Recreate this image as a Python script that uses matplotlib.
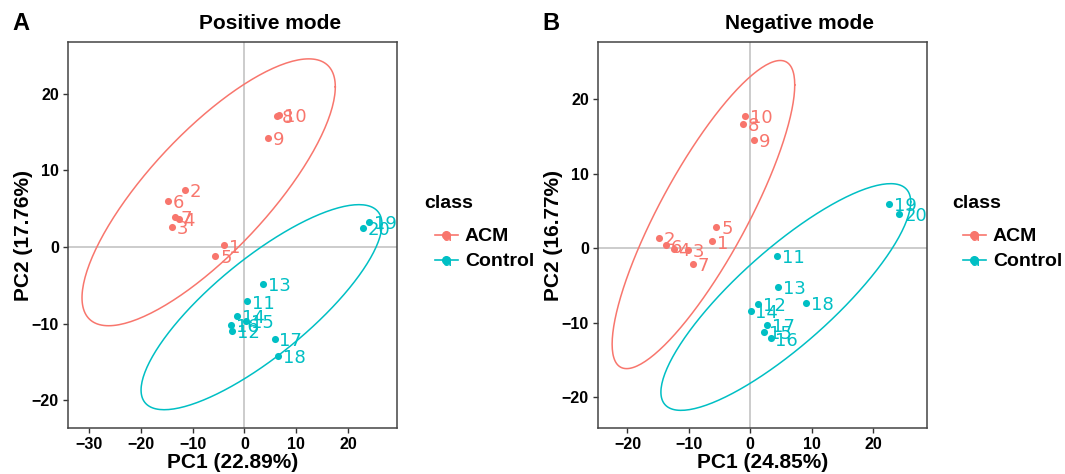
import numpy as np
import matplotlib
matplotlib.use('Agg')
import matplotlib.pyplot as plt
from matplotlib.legend_handler import HandlerBase
from matplotlib.lines import Line2D
from matplotlib.text import Text

# sample ids and groups (1-10 ACM, 11-20 Control)
sample_ids = [str(i) for i in range(1, 21)]
classes = ['ACM'] * 10 + ['Control'] * 10

# positive mode PCA scores
pos_pc1 = [-3.9, -11.5, -14.0, -12.7, -5.6, -14.8, -13.3, 6.3, 4.6, 6.7,
           0.5, -2.4, 3.6, -1.5, 0.3, -2.6, 5.8, 6.4, 24.0, 22.8]
pos_pc2 = [0.2, 7.4, 2.6, 3.7, -1.2, 6.0, 3.9, 17.1, 14.2, 17.2,
           -7.1, -10.9, -4.8, -9.0, -9.7, -10.2, -12.0, -14.2, 3.3, 2.5]
# negative mode PCA scores
neg_pc1 = [-6.2, -14.9, -10.1, -12.5, -5.5, -13.7, -9.4, -1.2, 0.65, -0.86,
           4.3, 1.3, 4.5, 0.05, 2.3, 3.3, 2.7, 9.1, 22.6, 24.3]
neg_pc2 = [0.9, 1.4, -0.2, -0.1, 2.9, 0.36, -2.1, 16.6, 14.5, 17.7,
           -1.0, -7.5, -5.2, -8.4, -11.2, -12.1, -10.3, -7.3, 5.9, 4.6]

pos_var = ('22.89%', '17.76%')
neg_var = ('24.85%', '16.77%')

colors = {'ACM': '#F8766D', 'Control': '#00BFC4'}
F_95_2_9 = 4.256495  # qf(0.95, 2, 9), n = 10 per group


def cov_trob(pts, nu=5, maxit=25, tol=0.01):
    # multivariate t robust covariance, like MASS::cov.trob used by stat_ellipse
    n, p = pts.shape
    loc = pts.mean(axis=0)
    w = np.ones(n)
    for _ in range(maxit):
        w0 = w
        X = pts - loc
        _, d, vt = np.linalg.svd(np.sqrt(w / w.sum())[:, None] * X, full_matrices=False)
        wX = X @ vt.T / d
        Q = (wX ** 2).sum(axis=1)
        w = (nu + p) / (nu + Q)
        loc = (w[:, None] * pts).sum(axis=0) / w.sum()
        if np.all(np.abs(w - w0) < tol):
            break
    sw = np.sqrt(w)[:, None] * X
    return loc, sw.T @ sw / n


def ellipse(x, y, seg=200):
    pts = np.column_stack([x, y])
    center, shape = cov_trob(pts)
    r = np.sqrt(2 * F_95_2_9)
    ang = np.linspace(0, 2 * np.pi, seg + 1)
    circ = np.column_stack([np.cos(ang), np.sin(ang)])
    L = np.linalg.cholesky(shape)
    return center + r * circ @ L.T


class KeyHandler(HandlerBase):
    def create_artists(self, legend, orig, xd, yd, width, height, fontsize, trans):
        c = orig.get_color()
        y = -yd + height / 2
        ln = Line2D([-xd, -xd + width], [y, y], color=c, lw=1.2, transform=trans)
        dot = Line2D([-xd + width / 2], [y], marker='o', ms=5.5, color=c, transform=trans)
        txt = Text(-xd + width / 2, y - 1.5, 'a', color=c, ha='center', va='center',
                   fontsize=11, family='DejaVu Sans', transform=trans)
        return [ln, dot, txt]


fig = plt.figure(figsize=(10.65, 4.74), dpi=100)
bold = dict(family='Liberation Sans', fontweight='bold')

panels = [
    (0.0638, pos_pc1, pos_pc2, pos_var, (-34.0, 29.4), (-23.6, 26.7),
     [-30, -20, -10, 0, 10, 20], 'Positive mode', 'A', 0.2535, 0.012, 424),
    (0.5615, neg_pc1, neg_pc2, neg_var, (-24.8, 28.8), (-24.1, 27.6),
     [-20, -10, 0, 10, 20], 'Negative mode', 'B', 0.751, 0.509, 952),
]

for left, pc1, pc2, var, xl, yl, xt, title, letter, tx, lx, legx in panels:
    ax = fig.add_axes([left, 0.097, 0.309, 0.814])
    pc1 = np.array(pc1)
    pc2 = np.array(pc2)
    grp = np.array(classes)
    ax.axhline(0, color='#c4c4c4', lw=1.2, zorder=0)
    ax.axvline(0, color='#c4c4c4', lw=1.2, zorder=0)
    handles = []
    for g in ['ACM', 'Control']:
        m = grp == g
        e = ellipse(pc1[m], pc2[m])
        ax.plot(e[:, 0], e[:, 1], color=colors[g], lw=1.1, zorder=2)
        ax.scatter(pc1[m], pc2[m], s=26, color=colors[g], zorder=3, linewidths=0)
        handles.append(Line2D([], [], color=colors[g], label=g))
    for sid, g, x, y in zip(sample_ids, classes, pc1, pc2):
        ax.annotate(sid, (x, y), xytext=(3.5, -1.5), textcoords='offset points',
                    ha='left', va='center', fontsize=13, color=colors[g],
                    family='DejaVu Sans', zorder=4)
    ax.set_xlim(*xl)
    ax.set_ylim(*yl)
    ax.set_xticks(xt)
    ax.set_yticks([-20, -10, 0, 10, 20])
    ax.set_xticklabels([str(v).replace('-', '\u2212') for v in xt])
    ax.set_yticklabels([str(v).replace('-', '\u2212') for v in [-20, -10, 0, 10, 20]])
    for lab in ax.get_xticklabels() + ax.get_yticklabels():
        lab.set_fontfamily('Liberation Sans')
        lab.set_fontweight('bold')
        lab.set_fontsize(11.5)
    ax.tick_params(length=3.5, width=1, color='#333333', pad=3)
    for s in ax.spines.values():
        s.set_color('#444444')
        s.set_linewidth(1.1)
    ax.set_xlabel('PC1 (%s)' % var[0], fontsize=15, labelpad=1, **bold)
    ax.set_ylabel('PC2 (%s)' % var[1], fontsize=15, labelpad=-1, **bold)
    fig.text(tx, 1 - 29 / 474, title, ha='center', va='baseline', fontsize=15, **bold)
    fig.text(lx, 1 - 30 / 474, letter, ha='left', va='baseline', fontsize=17, **bold)
    fig.text(legx / 1065, 1 - 208 / 474, 'class', ha='left', va='baseline', fontsize=14, **bold)
    ax.legend(handles=handles, loc='upper left',
              bbox_to_anchor=((legx + 1) / 1065, 1 - 218 / 474), bbox_transform=fig.transFigure,
              frameon=False, borderpad=0, handlelength=1.2, handletextpad=0.35,
              labelspacing=0.38, handler_map={Line2D: KeyHandler()},
              prop=dict(family='Liberation Sans', weight='bold', size=14))

fig.savefig('out.png', dpi=100)
